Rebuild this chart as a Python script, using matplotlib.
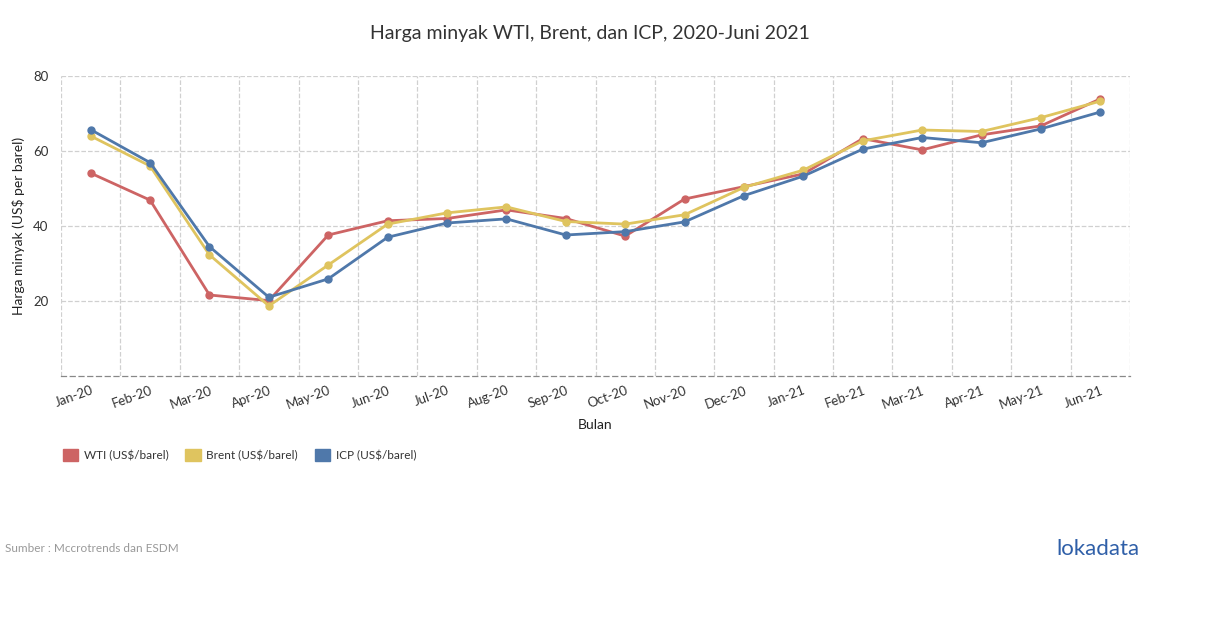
import matplotlib.pyplot as plt
import matplotlib.patches as mpatches
import numpy as np

plt.rcParams['font.family'] = ['Lato', 'DejaVu Sans']

bulan = ['Jan-20', 'Feb-20', 'Mar-20', 'Apr-20', 'May-20', 'Jun-20', 'Jul-20', 'Aug-20', 'Sep-20',
         'Oct-20', 'Nov-20', 'Dec-20', 'Jan-21', 'Feb-21', 'Mar-21', 'Apr-21', 'May-21', 'Jun-21']
wti = [54.1, 46.9, 21.6, 20.1, 37.6, 41.4, 42.0, 44.3, 42.0, 37.3, 47.2, 50.5, 53.9, 63.3, 60.3, 64.3, 66.7, 73.9]
brent = [64.0, 56.0, 32.3, 18.7, 29.6, 40.5, 43.5, 45.1, 41.2, 40.5, 43.0, 50.3, 54.9, 62.7, 65.6, 65.2, 68.9, 73.3]
icp = [65.7, 56.9, 34.5, 21.0, 25.9, 37.0, 40.8, 41.9, 37.6, 38.5, 41.1, 48.1, 53.3, 60.5, 63.6, 62.2, 65.9, 70.4]

c_wti = '#cd6464'
c_brent = '#dfc45f'
c_icp = '#4f78aa'

fig = plt.figure(figsize=(12.1, 6.28), dpi=100)
ax = fig.add_axes([61 / 1210, 1 - 376 / 628, (1130 - 61) / 1210, 300 / 628])

x = np.arange(len(bulan)) + 0.5
for vals, col, lab in [(wti, c_wti, 'WTI (US$/barel)'), (brent, c_brent, 'Brent (US$/barel)'),
                       (icp, c_icp, 'ICP (US$/barel)')]:
    ax.plot(x, vals, color=col, lw=2, marker='o', ms=5, label=lab)

ax.set_xlim(0, len(bulan))
ax.set_ylim(0, 80)
ax.set_yticks([20, 40, 60, 80])
ax.set_xticks(x)
ax.set_xticklabels(bulan, rotation=20, ha='right', rotation_mode='anchor', fontsize=9.5, color='#333333')
ax.set_xticks(np.arange(len(bulan) + 1), minor=True)
ax.tick_params(axis='x', which='both', length=0, pad=6)
for t in ax.get_xticklabels():
    t.set_x(t.get_position()[0])
ax.tick_params(axis='y', length=0, labelsize=9.5, labelcolor='#333333', pad=9)
ax.grid(True, which='minor', axis='x', color='#d0d0d0', ls='--', lw=0.9)
ax.grid(True, which='major', axis='y', color='#d0d0d0', ls='--', lw=0.9)
for s in ['top', 'right', 'left']:
    ax.spines[s].set_visible(False)
ax.spines['bottom'].set_color('#888888')
ax.spines['bottom'].set_linestyle((0, (4, 3)))
ax.spines['bottom'].set_linewidth(0.9)

ax.set_ylabel('Harga minyak (US$ per barel)', fontsize=10, color='#222222', labelpad=6)
fig.text(595 / 1210, 1 - 425 / 628, 'Bulan', ha='center', va='center', fontsize=10, color='#222222')
fig.text(590 / 1210, 1 - 33 / 628, 'Harga minyak WTI, Brent, dan ICP, 2020-Juni 2021',
         ha='center', va='center', fontsize=14, color='#333333')

handles = [mpatches.Patch(color=c_wti, label='WTI (US$/barel)'),
           mpatches.Patch(color=c_brent, label='Brent (US$/barel)'),
           mpatches.Patch(color=c_icp, label='ICP (US$/barel)')]
fig.legend(handles=handles, loc='center left', bbox_to_anchor=(52 / 1210, 1 - 455 / 628), ncol=3,
           frameon=False, fontsize=8.5, handlelength=1.3, handleheight=1.3, handletextpad=0.5,
           columnspacing=1.4, labelcolor='#333333')

fig.text(5 / 1210, 1 - 548 / 628, 'Sumber : Mccrotrends dan ESDM', ha='left', va='center',
         fontsize=8.5, color='#999999')
fig.text(1140 / 1210, 1 - 549 / 628, 'lokadata', ha='right', va='center', fontsize=16,
         color='#2f5fa8')

fig.savefig('out.png', dpi=100)
